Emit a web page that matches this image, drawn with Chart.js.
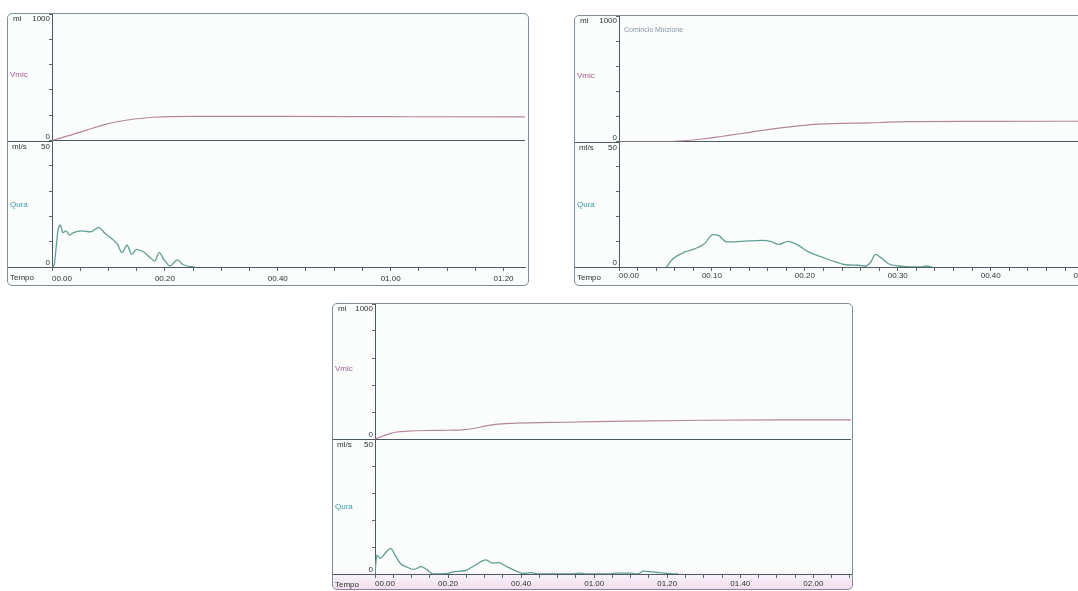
<!DOCTYPE html>
<html>
<head>
<meta charset="utf-8">
<script src="https://cdn.jsdelivr.net/npm/chart.js@4.4.1/dist/chart.umd.min.js"></script>
<style>
html, body { margin: 0; padding: 0; background: #fff; overflow: hidden; width: 1078px; height: 591px; }
.box { position: absolute; border: 1px solid #7f8c97; border-radius: 5px; background: #fbfcfc; overflow: hidden; }
.box canvas { display: block; }
#b3 { background: linear-gradient(to bottom, #fbfcfc 0%, #fbfcfc 93%, #f2dcee 100%); }
</style>
</head>
<body>
<div class="box" id="b1" style="left:7px;top:13px;width:520px;height:271px"><canvas id="c1" width="520" height="271"></canvas></div>
<div class="box" id="b2" style="left:574px;top:15px;width:530px;height:269px"><canvas id="c2" width="530" height="269"></canvas></div>
<div class="box" id="b3" style="left:332px;top:303px;width:519px;height:285px"><canvas id="c3" width="519" height="285"></canvas></div>
<script>
// esame 1
var t1Vol = [0, 3, 6, 9, 12, 15, 18, 21, 25, 40, 60, 84];
var vol1  = [0, 38, 80, 122, 152, 172, 184, 189, 190, 190, 188, 186];
var t1Flow = [0, 0.4, 0.7, 1.1, 1.5, 1.9, 2.5, 3.1, 3.8, 5.3, 6.8, 8.3, 9.5, 10.7, 11.6, 12.4, 13.3, 14.1, 15.0, 16.2, 17.4, 18.2, 19.0, 19.8, 20.9, 22.2, 23.2, 24.7, 25.3];
var flow1  = [0, 1, 7, 15, 16.5, 13.6, 14.3, 12.6, 13.6, 14.3, 13.9, 15.6, 13, 11, 9, 5.7, 8.6, 5, 7, 6, 3.7, 2.4, 5.7, 3, 0.4, 2.8, 1, 0.1, 0];

// esame 2
var t2Vol = [0, 5.5, 7, 9, 11, 13, 15, 17, 19, 21, 24, 27, 29, 32, 40, 52.3];
var vol2  = [0, 0, 6, 20, 40, 62, 84, 104, 122, 136, 145, 148, 155, 158, 160, 162];
var t2Flow = [5.1, 5.8, 7.1, 8.2, 9.2, 10.1, 10.7, 11.6, 13.2, 15.4, 16.3, 17.2, 18.2, 19.3, 20.4, 21.8, 23.3, 24.4, 25.8, 26.5, 27.1, 27.6, 28.1, 29, 30.1, 31.5, 32.5, 33, 33.7];
var flow2  = [0, 3.3, 6, 7.3, 9.3, 12.9, 12.6, 10, 10.2, 10.6, 10.2, 9, 10.2, 8.6, 6, 4, 2, 0.9, 0.7, 0.3, 2, 5, 4, 1.3, 0.4, 0, 0, 0.4, 0];

// esame 3
var t3Vol = [0, 2, 4, 6, 9, 14, 20, 24, 27, 30, 33, 37, 42, 52, 70, 90, 110, 130.3];
var vol3  = [0, 20, 40, 52, 58, 63, 65, 68, 78, 95, 108, 116, 120, 124, 133, 139, 141, 141];
var t3Flow = [0, 0.5, 1.4, 2.6, 4.3, 5.5, 6.9, 8.8, 10.7, 12.6, 14.1, 15.5, 16, 19.8, 21.7, 24.6, 27.5, 30.3, 32.2, 33.7, 36.1, 39, 40.4, 42.8, 44.7, 54, 56, 58, 64, 66, 70, 72, 73.4, 77, 80, 83];
var flow3  = [0, 7, 5.8, 7.4, 9.5, 7, 4, 2.5, 1.7, 2.7, 1.7, 0.2, 0, 0.2, 0.9, 1.2, 3.3, 5.2, 4, 4.2, 2.7, 0.9, 0.2, 0.5, 0, 0, 0.3, 0, 0, 0.3, 0.3, 0, 1.1, 0.6, 0.2, 0];

var volTicks = [0, 200, 400, 600, 800, 1000];
var flowTicks = [0, 10, 20, 30, 40, 50];

var AXIS = '#4d5a66';
var TICK = '#5c6873';
var VMIC_LINE = '#b5869c';
var QURA_LINE = '#5f9f94';
var VMIC_TXT = '#a0608e';
var QURA_TXT = '#3f9aa6';
var FONT = '"Liberation Sans", Arial, sans-serif';
var NONE = 'rgba(0,0,0,0)';

function punti(t, v) {
    return t.map(function (x, i) { return {x: x, y: v[i]}; });
}

function tempo(s) {
    var m = Math.floor(s / 60), r = Math.round(s % 60);
    return (m < 10 ? '0' : '') + m + '.' + (r < 10 ? '0' : '') + r;
}

var etichette = {
    id: 'etichette',
    afterDraw: function (chart, args, o) {
        var ctx = chart.ctx, a = chart.chartArea;
        var top = chart.scales.yV.getPixelForValue(1000);
        var mid = Math.round(chart.scales.yV.getPixelForValue(0)) + 0.5;
        var bot = Math.round(chart.scales.yQ.getPixelForValue(0)) + 0.5;
        ctx.save();
        ctx.strokeStyle = AXIS;
        ctx.lineWidth = 1;
        ctx.beginPath();
        ctx.moveTo(0, mid); ctx.lineTo(a.left, mid);
        ctx.moveTo(0, bot); ctx.lineTo(a.left, bot);
        ctx.stroke();

        ctx.font = '8px ' + FONT;
        ctx.textBaseline = 'middle';
        ctx.fillStyle = '#2e3338';
        ctx.textAlign = 'left';
        ctx.fillText('ml', 5, top + 5);
        ctx.fillText('ml/s', 4, mid + 5);
        ctx.fillText('Tempo', 2, bot + 10);
        ctx.textAlign = 'right';
        ctx.fillText('1000', a.left - 2, top + 5);
        ctx.fillText('0', a.left - 2, mid - 5);
        ctx.fillText('50', a.left - 2, mid + 5);
        ctx.fillText('0', a.left - 2, bot - 5);
        ctx.textAlign = 'left';
        ctx.fillStyle = VMIC_TXT;
        ctx.fillText('Vmic', 2, (top + mid) / 2 - 3);
        ctx.fillStyle = QURA_TXT;
        ctx.fillText('Qura', 2, (mid + bot) / 2);
        if (o.nota) {
            ctx.font = '7px ' + FONT;
            ctx.fillStyle = '#8796a1';
            ctx.fillText(o.nota, a.left + 5, top + 14);
        }
        ctx.restore();
    }
};

function grafico(id, cfg) {
    var canvas = document.getElementById(id).getContext('2d');
    return new Chart(canvas, {
        type: 'line',
        data: {
            datasets: [{
                label: 'Vmic',
                data: punti(cfg.tVol, cfg.vol),
                yAxisID: 'yV',
                borderColor: VMIC_LINE,
                borderWidth: 1.2,
                pointRadius: 0,
                cubicInterpolationMode: 'monotone',
                fill: false
            }, {
                label: 'Qura',
                data: punti(cfg.tFlow, cfg.flow),
                yAxisID: 'yQ',
                borderColor: QURA_LINE,
                borderWidth: 1.3,
                pointRadius: 0,
                cubicInterpolationMode: 'monotone',
                fill: false
            }]
        },
        options: {
            responsive: false,
            animation: false,
            events: [],
            layout: { padding: 0 },
            plugins: {
                legend: { display: false },
                tooltip: { enabled: false },
                etichette: { nota: cfg.nota }
            },
            scales: {
                x: {
                    type: 'linear',
                    position: 'bottom',
                    min: 0,
                    max: cfg.max,
                    afterBuildTicks: function (s) {
                        var t = [];
                        for (var v = 0; v <= cfg.max; v += cfg.minore) t.push({value: v});
                        t.push({value: cfg.max});
                        s.ticks = t;
                    },
                    afterFit: function (s) { s.height = cfg.xH; },
                    border: { color: AXIS, width: 1 },
                    grid: {
                        drawOnChartArea: false,
                        tickLength: 4,
                        tickColor: function (c) { return c.tick && c.tick.value === cfg.max ? NONE : TICK; }
                    },
                    ticks: {
                        autoSkip: false,
                        maxRotation: 0,
                        align: 'inner',
                        padding: cfg.pad,
                        color: '#2e3338',
                        font: { size: 8, family: FONT },
                        callback: function (v) {
                            return (v % cfg.passo === 0 && v !== cfg.max) ? tempo(v) : '';
                        }
                    }
                },
                yQ: {
                    type: 'linear',
                    position: 'left',
                    stack: 'esame',
                    stackWeight: 1,
                    min: 0,
                    max: 50,
                    afterBuildTicks: function (s) { s.ticks = flowTicks.map(function (v) { return {value: v}; }); },
                    afterFit: function (s) { s.width = cfg.yW; },
                    border: { color: AXIS, width: 1 },
                    grid: { color: NONE, tickLength: 3, tickColor: TICK },
                    ticks: { display: false }
                },
                yV: {
                    type: 'linear',
                    position: 'left',
                    stack: 'esame',
                    stackWeight: 1,
                    min: 0,
                    max: 1000,
                    afterBuildTicks: function (s) { s.ticks = volTicks.map(function (v) { return {value: v}; }); },
                    afterFit: function (s) { s.width = cfg.yW; },
                    border: { color: AXIS, width: 1 },
                    grid: {
                        color: function (c) { return c.tick && c.tick.value === 0 ? AXIS : NONE; },
                        tickLength: 3,
                        tickColor: TICK
                    },
                    ticks: { display: false }
                }
            }
        },
        plugins: [etichette]
    });
}

grafico('c1', { tVol: t1Vol, vol: vol1, tFlow: t1Flow, flow: flow1, max: 83.8, minore: 5, passo: 20, yW: 44, xH: 18, pad: 3 });
grafico('c2', { tVol: t2Vol, vol: vol2, tFlow: t2Flow, flow: flow2, max: 52.3, minore: 2, passo: 10, yW: 44, xH: 18, pad: 0, nota: 'Comincio Minzione' });
grafico('c3', { tVol: t3Vol, vol: vol3, tFlow: t3Flow, flow: flow3, max: 130.3, minore: 5, passo: 20, yW: 42, xH: 15, pad: 1 });
</script>
</body>
</html>
